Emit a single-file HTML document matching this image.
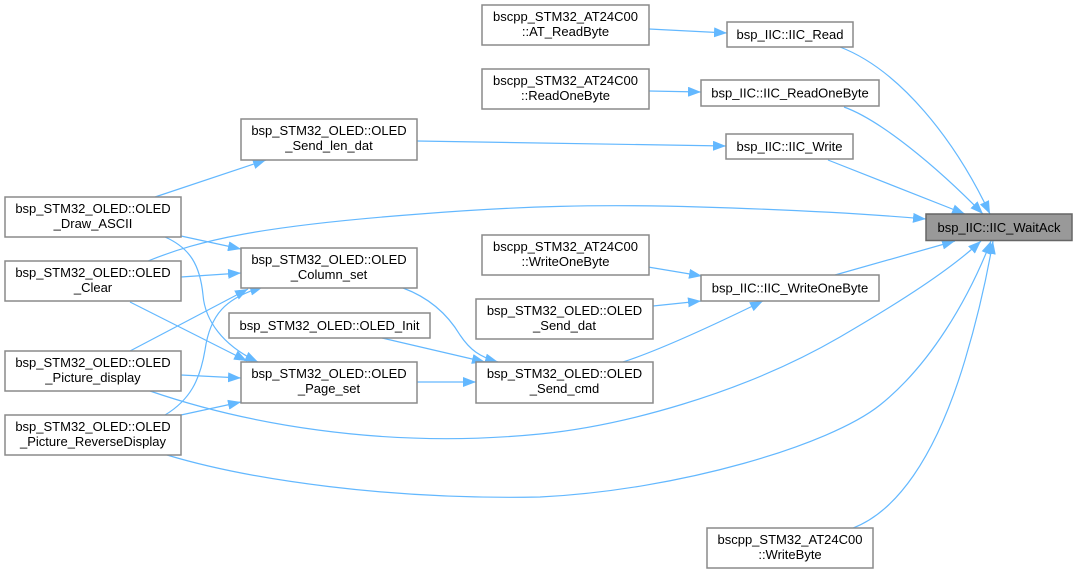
<!DOCTYPE html>
<html><head><meta charset="utf-8"><style>
html,body{margin:0;padding:0;background:#fff;}
svg{display:block;}
text{font-family:"Liberation Sans",Arial,sans-serif;font-size:13px;fill:#000;text-anchor:middle;}
.n{fill:#fff;stroke:#8a8a8a;stroke-width:1.5;}
.e{fill:none;stroke:#63b8ff;stroke-width:1.2;marker-end:url(#a);}
</style></head><body>
<svg width="1077" height="573" viewBox="0 0 1077 573" xmlns="http://www.w3.org/2000/svg">
<defs>
<marker id="a" markerUnits="userSpaceOnUse" markerWidth="13" markerHeight="10" viewBox="0 0 13 10" refX="13" refY="5" orient="auto">
<path d="M0,0 L13,5 L0,10 Z" fill="#63b8ff"/>
</marker>
</defs>
<!-- edges -->
<path class="e" d="M649,29 L727,33"/>
<path class="e" d="M649,91 L701,92"/>
<path class="e" d="M417,141 L726,146"/>
<path class="e" d="M840,47 C900,70 955,140 990,214"/>
<path class="e" d="M844,107 C880,120 935,165 983,214"/>
<path class="e" d="M828,160 L965,214"/>
<path class="e" d="M148,261 C200,240 260,226 420,214 C520,206 600,204 700,207 C800,210 880,215 926,219"/>
<path class="e" d="M181,236 L241,249"/>
<path class="e" d="M155,197 L266,160"/>
<path class="e" d="M165,237 C190,248 200,265 203,295 C205,320 222,345 258,362"/>
<path class="e" d="M181,277 L241,273"/>
<path class="e" d="M130,302 L247,361"/>
<path class="e" d="M130,351 L248,289"/>
<path class="e" d="M181,375 L241,378"/>
<path class="e" d="M150,391 C240,422 380,450 540,434 C620,426 740,395 840,337 C900,302 950,270 981,241"/>
<path class="e" d="M165,415 C190,400 200,380 205,350 C210,315 225,298 263,287"/>
<path class="e" d="M181,415 L241,402"/>
<path class="e" d="M167,455 C250,480 390,500 540,497 C680,490 830,445 880,405 C930,365 968,300 991,241"/>
<path class="e" d="M853,528 C895,512 935,460 965,360 C980,310 988,270 993,241"/>
<path class="e" d="M403,288 C430,298 448,315 460,335 C470,350 480,357 498,362"/>
<path class="e" d="M382,338 L485,362"/>
<path class="e" d="M417,382 L476,382"/>
<path class="e" d="M623,362 C660,350 720,322 763,301"/>
<path class="e" d="M653,306 L701,301"/>
<path class="e" d="M648,267 L702,276"/>
<path class="e" d="M835,275 L955,241"/>
<!-- nodes -->
<rect class="n" x="482" y="5" width="167" height="40"/>
<text x="565.5" y="21">bscpp_STM32_AT24C00</text><text x="565.5" y="36">::AT_ReadByte</text>
<rect class="n" x="482" y="69" width="167" height="40"/>
<text x="565.5" y="85">bscpp_STM32_AT24C00</text><text x="565.5" y="100">::ReadOneByte</text>
<rect class="n" x="727" y="22" width="126" height="25"/>
<text x="790" y="39">bsp_IIC::IIC_Read</text>
<rect class="n" x="701" y="80" width="178" height="26"/>
<text x="790" y="97.5">bsp_IIC::IIC_ReadOneByte</text>
<rect class="n" x="726" y="134" width="127" height="25"/>
<text x="789.5" y="151">bsp_IIC::IIC_Write</text>
<rect class="n" x="241" y="119" width="176" height="41"/>
<text x="329" y="135">bsp_STM32_OLED::OLED</text><text x="329" y="150">_Send_len_dat</text>
<rect class="n" x="5" y="197" width="176" height="40"/>
<text x="93" y="213">bsp_STM32_OLED::OLED</text><text x="93" y="228">_Draw_ASCII</text>
<rect x="926" y="214" width="146" height="26.5" fill="#999" stroke="#666" stroke-width="1.5"/>
<text x="999" y="232">bsp_IIC::IIC_WaitAck</text>
<rect class="n" x="241" y="248" width="176" height="40"/>
<text x="329" y="264">bsp_STM32_OLED::OLED</text><text x="329" y="279">_Column_set</text>
<rect class="n" x="482" y="235" width="167" height="40"/>
<text x="565.5" y="251">bscpp_STM32_AT24C00</text><text x="565.5" y="266">::WriteOneByte</text>
<rect class="n" x="5" y="261" width="176" height="40"/>
<text x="93" y="277">bsp_STM32_OLED::OLED</text><text x="93" y="292">_Clear</text>
<rect class="n" x="701" y="275" width="178" height="26"/>
<text x="790" y="292.5">bsp_IIC::IIC_WriteOneByte</text>
<rect class="n" x="229" y="313" width="201" height="25"/>
<text x="329.5" y="330">bsp_STM32_OLED::OLED_Init</text>
<rect class="n" x="476" y="299" width="177" height="40"/>
<text x="564.5" y="315">bsp_STM32_OLED::OLED</text><text x="564.5" y="330">_Send_dat</text>
<rect class="n" x="5" y="351" width="176" height="40"/>
<text x="93" y="367">bsp_STM32_OLED::OLED</text><text x="93" y="382">_Picture_display</text>
<rect class="n" x="241" y="362" width="176" height="41"/>
<text x="329" y="378">bsp_STM32_OLED::OLED</text><text x="329" y="393">_Page_set</text>
<rect class="n" x="476" y="362" width="177" height="41"/>
<text x="564.5" y="378">bsp_STM32_OLED::OLED</text><text x="564.5" y="393">_Send_cmd</text>
<rect class="n" x="5" y="415" width="176" height="40"/>
<text x="93" y="431">bsp_STM32_OLED::OLED</text><text x="93" y="446">_Picture_ReverseDisplay</text>
<rect class="n" x="707" y="528" width="166" height="40"/>
<text x="790" y="544">bscpp_STM32_AT24C00</text><text x="790" y="559">::WriteByte</text>
</svg>
</body></html>
